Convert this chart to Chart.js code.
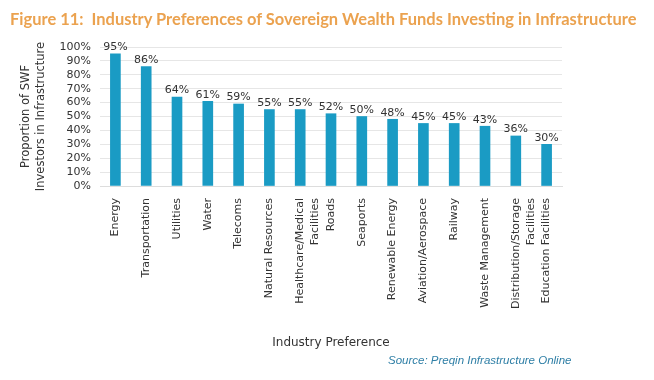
<!DOCTYPE html>
<html>
<head>
<meta charset="utf-8">
<script src="https://cdn.jsdelivr.net/npm/chart.js@4.4.1/dist/chart.umd.min.js"></script>
<style>
html,body{margin:0;padding:0;background:#fff}
.wrap{position:relative;width:654px;height:380px;font-family:'DejaVu Sans',sans-serif}
.title{position:absolute;left:10px;top:8px;font-size:17px;font-weight:bold;color:#EBA24F;white-space:nowrap;font-family:'Lato',sans-serif;transform-origin:0 0}
.source{position:absolute;left:388px;top:354px;font-size:11.5px;font-style:italic;color:#2F7FA6;font-family:'Liberation Sans',sans-serif}
canvas{position:absolute;left:0;top:0}
</style>
</head>
<body>
<div class="wrap">
  <canvas id="c" width="654" height="380"></canvas>
  <div class="title" id="t">Figure 11:&nbsp; Industry Preferences of Sovereign Wealth Funds Investing in Infrastructure</div>
  <div class="source">Source: Preqin Infrastructure Online</div>
</div>
<script>
const industries = ['Energy', 'Transportation', 'Utilities', 'Water', 'Telecoms', 'Natural Resources',
  ['Healthcare/Medical', 'Facilities'], 'Roads', 'Seaports', 'Renewable Energy', 'Aviation/Aerospace',
  'Railway', 'Waste Management', ['Distribution/Storage', 'Facilities'], 'Education Facilities'];
const shares = [95, 86, 64, 61, 59, 55, 55, 52, 50, 48, 45, 45, 43, 36, 30];
const yTicks = [0, 10, 20, 30, 40, 50, 60, 70, 80, 90, 100];

const textCol = '#333333';

// squeeze the title to the width it has in the figure
const t = document.getElementById('t');
t.style.transform = 'scaleX(' + (626 / t.scrollWidth) + ')';

// value labels above bars
const barLabels = {
  id: 'barLabels',
  afterDatasetsDraw(chart) {
    const ctx = chart.ctx;
    const meta = chart.getDatasetMeta(0);
    ctx.save();
    ctx.font = '11px "DejaVu Sans"';
    ctx.fillStyle = textCol;
    ctx.textAlign = 'center';
    ctx.textBaseline = 'bottom';
    meta.data.forEach((bar, i) => {
      ctx.fillText(shares[i] + '%', bar.x, bar.y - 1);
    });
    ctx.restore();
  }
};

new Chart(document.getElementById('c'), {
  type: 'bar',
  data: {
    labels: industries,
    datasets: [{
      data: shares,
      backgroundColor: '#1A9BC4',
      barThickness: 10
    }]
  },
  options: {
    responsive: false,
    animation: false,
    layout: { padding: { top: 47, right: 92, bottom: 30, left: 19 } },
    plugins: { legend: { display: false }, tooltip: { enabled: false } },
    scales: {
      y: {
        min: 0, max: 100,
        afterBuildTicks: (axis) => { axis.ticks = yTicks.map(v => ({ value: v })); },
        afterFit: (axis) => { axis.width = 81; },
        grid: { color: '#E6E6E6', drawTicks: false },
        border: { display: false },
        ticks: { color: textCol, font: { size: 11, family: 'DejaVu Sans' }, padding: 9, autoSkip: false, callback: v => v + '%' },
        title: {
          display: true,
          text: ['Proportion of SWF', 'Investors in Infrastructure'],
          color: textCol,
          font: { size: 11.5, family: 'DejaVu Sans', lineHeight: 1.3 },
          padding: 0
        }
      },
      x: {
        afterFit: (axis) => { axis.height = 164; },
        grid: { display: false },
        border: { color: '#DDDDDD' },
        ticks: { color: textCol, font: { size: 11, family: 'DejaVu Sans', lineHeight: 1.35 }, minRotation: 90, maxRotation: 90, autoSkip: false, padding: 4 },
        title: {
          display: true,
          text: 'Industry Preference',
          color: textCol,
          font: { size: 12, family: 'DejaVu Sans' },
          padding: 0
        }
      }
    }
  },
  plugins: [barLabels]
});
</script>
</body>
</html>
